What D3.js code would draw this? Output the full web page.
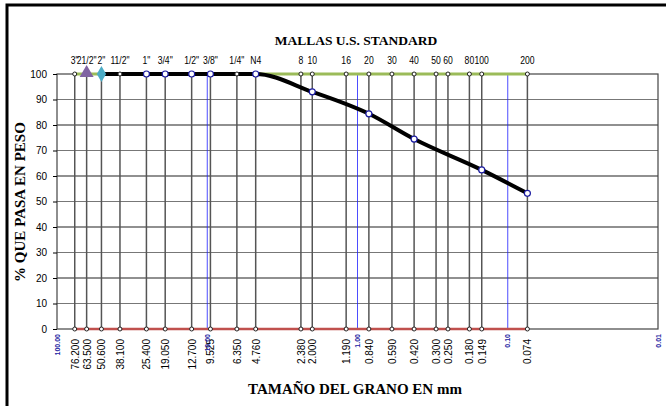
<!DOCTYPE html>
<html>
<head>
<meta charset="utf-8">
<style>
    body { margin: 0; background: #fff; }
    .num { font-family: "Liberation Sans", Arial, sans-serif; font-size: 10px; fill: #000; }
    .top { font-family: "Liberation Sans", Arial, sans-serif; font-size: 10.5px; fill: #000; }
    .ttl { font-family: "Liberation Serif", "Times New Roman", serif; font-weight: bold; font-size: 13.5px; fill: #000; }
    .big { font-size: 15px; }
    .blu { font-family: "Liberation Sans", Arial, sans-serif; font-weight: bold; font-size: 7px; fill: #2020a0; }
</style>
</head>
<body>
<svg id="chart"></svg>
<script src="https://d3js.org/d3.v7.min.js"></script>
<script>
// sieve openings (mm) and their names
var sieveSizes = [76.2, 63.5, 50.6, 38.1, 25.4, 19.05, 12.7, 9.525, 6.35, 4.76, 2.38, 2.0, 1.19, 0.84, 0.59, 0.42, 0.3, 0.25, 0.18, 0.149, 0.074];
var sieveNames = ['3"', '21/2"', '2"', '11/2"', '1"', '3/4"', '1/2"', '3/8"', '1/4"', 'N4', '8', '10', '16', '20', '30', '40', '50', '60', '80', '100', '200'];
var sieveLabels = ['76.200', '63.500', '50.600', '38.100', '25.400', '19.050', '12.700', '9.525', '6.350', '4.760', '2.380', '2.000', '1.190', '0.840', '0.590', '0.420', '0.300', '0.250', '0.180', '0.149', '0.074'];

// grading curve
var curveSizes = [50.6, 38.1, 25.4, 19.05, 12.7, 9.525, 4.76, 2.0, 0.84, 0.42, 0.149, 0.074];
var curvePass = [100, 100, 100, 100, 100, 100, 100, 93, 84.4, 74.5, 62.4, 53.2];
var markerSizes = [25.4, 19.05, 12.7, 9.525, 4.76, 2.0, 0.84, 0.42, 0.149, 0.074];
var markerPass = [100, 100, 100, 100, 100, 93, 84.4, 74.5, 62.4, 53.2];

var decades = [100, 10, 1, 0.1, 0.01];
var decadeLabels = ['100.00', '10.00', '1.00', '0.10', '0.01'];
var yTicks = [0, 10, 20, 30, 40, 50, 60, 70, 80, 90, 100];

var width = 666, height = 406;
var svg = d3.select('#chart').attr('width', width).attr('height', height);

var x = d3.scaleLog().domain([100, 0.01]).range([57, 658]);
var y = d3.scaleLinear().domain([0, 100]).range([329, 74]);

// outer frame
svg.append('path')
    .attr('d', 'M7,' + (height + 5) + 'V5H' + (width + 5))
    .attr('fill', 'none')
    .attr('stroke', '#000')
    .attr('stroke-width', 3);

// horizontal grid
svg.append('g').selectAll('line')
    .data(yTicks.slice(1, -1))
    .join('line')
    .attr('x1', x(100)).attr('x2', x(0.01))
    .attr('y1', d => y(d)).attr('y2', d => y(d))
    .attr('stroke', (d, i) => i % 2 ? '#222' : '#777')
    .attr('stroke-width', 1.2);

// blue decade lines
svg.append('g').selectAll('line')
    .data(decades.slice(1, -1))
    .join('line')
    .attr('x1', d => x(d)).attr('x2', d => x(d))
    .attr('y1', y(0)).attr('y2', y(100))
    .attr('stroke', '#1f1fff')
    .attr('stroke-width', 0.8);

// sieve verticals
svg.append('g').selectAll('line')
    .data(sieveSizes)
    .join('line')
    .attr('x1', d => x(d)).attr('x2', d => x(d))
    .attr('y1', y(0)).attr('y2', y(100))
    .attr('stroke', '#555')
    .attr('stroke-width', 1.5);

// plot box
svg.append('rect')
    .attr('x', x(100)).attr('y', y(100))
    .attr('width', x(0.01) - x(100)).attr('height', y(0) - y(100))
    .attr('fill', 'none')
    .attr('stroke', '#444')
    .attr('stroke-width', 1.2);

// y axis ticks and labels
var yAxis = d3.axisLeft(y).tickValues(yTicks).tickSize(4).tickFormat(d3.format('d'));
var ya = svg.append('g').attr('transform', 'translate(' + x(100) + ',0)').call(yAxis);
ya.select('.domain').remove();
ya.selectAll('line').attr('stroke', '#000');
ya.selectAll('text').attr('class', 'num').attr('x', -10).attr('font-family', null).attr('font-size', null);

// green 100% line and red 0% line
svg.append('line')
    .attr('x1', x(76.2)).attr('x2', x(0.074))
    .attr('y1', y(100)).attr('y2', y(100))
    .attr('stroke', '#9bbb59').attr('stroke-width', 3);
svg.append('line')
    .attr('x1', x(76.2)).attr('x2', x(0.074))
    .attr('y1', y(0)).attr('y2', y(0))
    .attr('stroke', '#c0504d').attr('stroke-width', 2.5);

// grading curve
var line = d3.line()
    .x(d => x(d[0]))
    .y(d => y(d[1]))
    .curve(d3.curveMonotoneX);
svg.append('path')
    .datum(curveSizes.map((s, i) => [s, curvePass[i]]))
    .attr('d', line)
    .attr('fill', 'none')
    .attr('stroke', '#000')
    .attr('stroke-width', 4)
    .attr('stroke-linejoin', 'round');

// small sieve markers at top and bottom
var sm = svg.append('g');
[0, 100].forEach(function (v) {
    sm.selectAll(null)
        .data(sieveSizes)
        .join('circle')
        .attr('cx', d => x(d)).attr('cy', y(v))
        .attr('r', 2)
        .attr('fill', '#fff')
        .attr('stroke', '#222')
        .attr('stroke-width', 1);
});

// curve markers
svg.append('g').selectAll('circle')
    .data(markerSizes.map((s, i) => [s, markerPass[i]]))
    .join('circle')
    .attr('cx', d => x(d[0])).attr('cy', d => y(d[1]))
    .attr('r', 3)
    .attr('fill', '#fff')
    .attr('stroke', '#1a1aa0')
    .attr('stroke-width', 1.2);

// triangle and diamond
svg.append('path')
    .attr('d', d3.symbol().type(d3.symbolTriangle).size(85)())
    .attr('transform', 'translate(' + x(63.5) + ',' + (y(100) - 1) + ')')
    .attr('fill', '#8064a2');
svg.append('path')
    .attr('d', d3.symbol().type(d3.symbolDiamond).size(75)())
    .attr('transform', 'translate(' + x(50.6) + ',' + y(100) + ')')
    .attr('fill', '#4bacc6');

// top sieve names (squeezed a bit, narrow look)
svg.append('g').selectAll('text')
    .data(sieveSizes)
    .join('text')
    .attr('class', 'top')
    .attr('transform', d => 'translate(' + x(d) + ',64) scale(0.82,1)')
    .attr('text-anchor', 'middle')
    .text((d, i) => sieveNames[i]);

// bottom sieve sizes (rotated)
svg.append('g').selectAll('text')
    .data(sieveSizes)
    .join('text')
    .attr('class', 'num')
    .attr('fill', '#333')
    .attr('transform', d => 'translate(' + (x(d) + 4) + ',339) rotate(-90)')
    .attr('text-anchor', 'end')
    .text((d, i) => sieveLabels[i]);

// blue decade labels
svg.append('g').selectAll('text')
    .data(decades)
    .join('text')
    .attr('class', 'blu')
    .attr('transform', d => 'translate(' + (x(d) + 2.5) + ',334) rotate(-90)')
    .attr('text-anchor', 'end')
    .text((d, i) => decadeLabels[i]);

// titles
svg.append('text').attr('class', 'ttl')
    .attr('x', 356).attr('y', 45).attr('text-anchor', 'middle')
    .text('MALLAS U.S. STANDARD');
svg.append('text').attr('class', 'ttl big')
    .attr('x', 355).attr('y', 394).attr('text-anchor', 'middle')
    .text('TAMAÑO DEL GRANO EN mm');
svg.append('text').attr('class', 'ttl big')
    .attr('transform', 'translate(25,202) rotate(-90)')
    .attr('text-anchor', 'middle')
    .text('% QUE PASA EN PESO');
</script>
</body>
</html>
